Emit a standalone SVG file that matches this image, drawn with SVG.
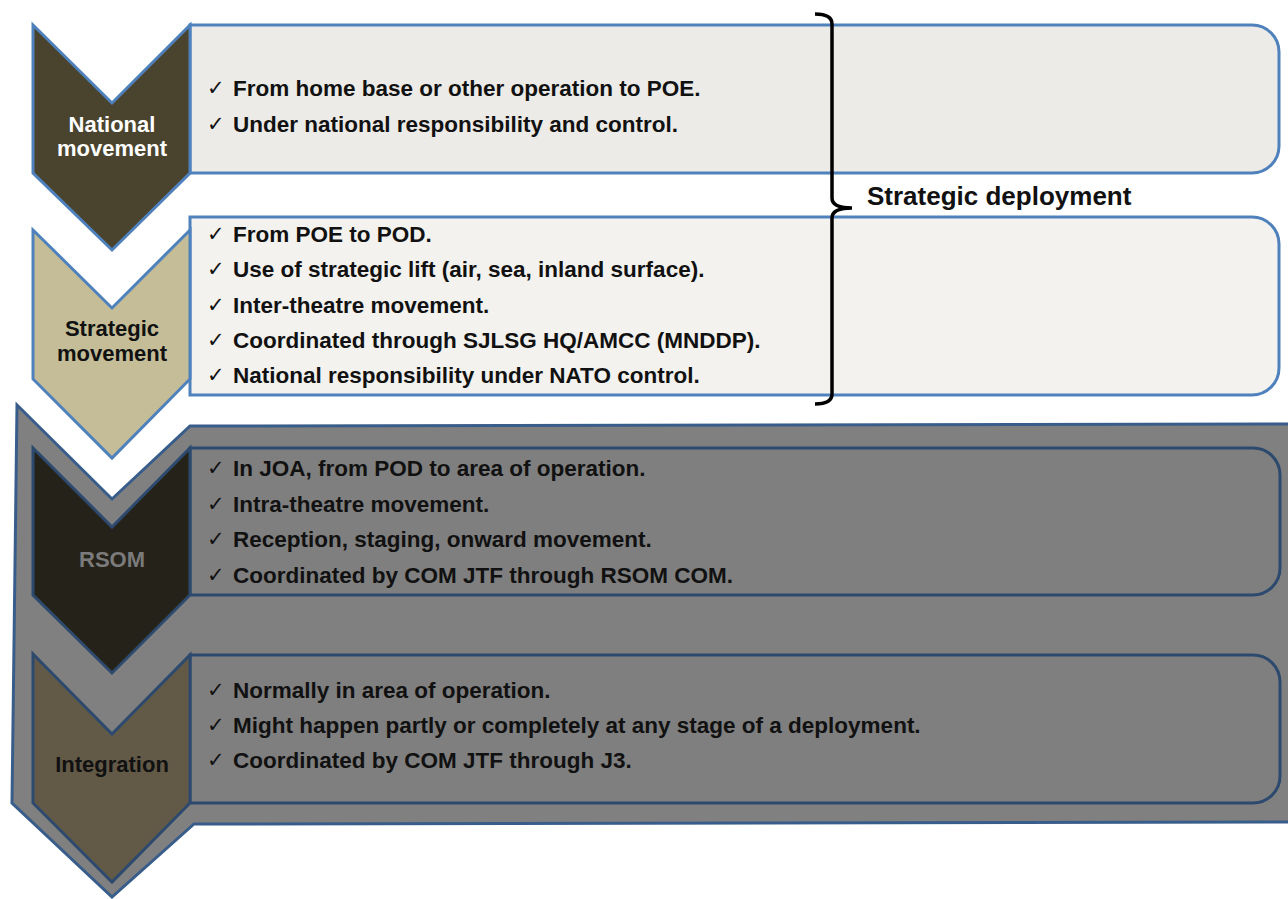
<svg xmlns="http://www.w3.org/2000/svg" width="1288" height="899" viewBox="0 0 1288 899">
  <style>
    .box-light { stroke: #4f81bd; stroke-width: 3; }
    .box-dark { fill: #7f7f7f; stroke: #2d4a6e; stroke-width: 3; }
    .chev-light { stroke: #4f81bd; stroke-width: 3; stroke-linejoin: miter; }
    .chev-dark { stroke: #2d4a6e; stroke-width: 3; stroke-linejoin: miter; }
    .t { font-family: "Liberation Sans", Arial, sans-serif; font-weight: bold; font-size: 22.5px; fill: #111111; }
    .chk { font-family: "DejaVu Sans", sans-serif; font-size: 21px; fill: #111111; }
    .lbl { font-family: "Liberation Sans", Arial, sans-serif; font-weight: bold; font-size: 22px; text-anchor: middle; }
  </style>

  <!-- Grey background band (RSOM + Integration) -->
  <g id="execution-band">
    <polygon points="17,405 112,499 190,426 1300,424 1300,822 194,824 112,897 12,803" fill="#808080" stroke="#385d8a" stroke-width="3" stroke-linejoin="miter"/>
  </g>

  <g id="national-movement">
    <path class="box-light" fill="#ecebe7" d="M190,25 H1252 A27,27 0 0 1 1279,52 V146 A27,27 0 0 1 1252,173 H190 Z"/>
    <polygon class="chev-light" fill="#4a442e" points="33,25 112,103 190,25 190,173 112,250 33,173"/>
    <text class="lbl" fill="#ffffff" x="112" y="132">National</text>
    <text class="lbl" fill="#ffffff" x="112" y="156">movement</text>
    <text class="chk" x="207" y="95">✓</text>
    <text class="t" x="233" y="96">From home base or other operation to POE.</text>
    <text class="chk" x="207" y="131">✓</text>
    <text class="t" x="233" y="132">Under national responsibility and control.</text>
  </g>

  <g id="strategic-movement">
    <path class="box-light" fill="#f3f2ee" d="M190,217 H1252 A27,27 0 0 1 1279,244 V368 A27,27 0 0 1 1252,395 H190 Z"/>
    <polygon class="chev-light" fill="#c4bd97" points="33,230 112,308 190,230 190,379 112,458 33,379"/>
    <text class="lbl" fill="#111111" x="112" y="336">Strategic</text>
    <text class="lbl" fill="#111111" x="112" y="361">movement</text>
    <text class="chk" x="207" y="241">✓</text>
    <text class="t" x="233" y="242">From POE to POD.</text>
    <text class="chk" x="207" y="276">✓</text>
    <text class="t" x="233" y="277">Use of strategic lift (air, sea, inland surface).</text>
    <text class="chk" x="207" y="312">✓</text>
    <text class="t" x="233" y="313">Inter-theatre movement.</text>
    <text class="chk" x="207" y="347">✓</text>
    <text class="t" x="233" y="348">Coordinated through SJLSG HQ/AMCC (MNDDP).</text>
    <text class="chk" x="207" y="382">✓</text>
    <text class="t" x="233" y="383">National responsibility under NATO control.</text>
  </g>

  <g id="rsom">
    <path class="box-dark" d="M190,448 H1253 A27,27 0 0 1 1280,475 V568 A27,27 0 0 1 1253,595 H190 Z"/>
    <polygon class="chev-dark" fill="#25221a" points="33,448 112,527 190,448 190,595 112,673 33,595"/>
    <text class="lbl" fill="#7b7b7b" x="112" y="567">RSOM</text>
    <text class="chk" x="207" y="475">✓</text>
    <text class="t" x="233" y="476">In JOA, from POD to area of operation.</text>
    <text class="chk" x="207" y="511">✓</text>
    <text class="t" x="233" y="512">Intra-theatre movement.</text>
    <text class="chk" x="207" y="546">✓</text>
    <text class="t" x="233" y="547">Reception, staging, onward movement.</text>
    <text class="chk" x="207" y="582">✓</text>
    <text class="t" x="233" y="583">Coordinated by COM JTF through RSOM COM.</text>
  </g>

  <g id="integration">
    <path class="box-dark" d="M190,655 H1253 A27,27 0 0 1 1280,682 V776 A27,27 0 0 1 1253,803 H190 Z"/>
    <polygon class="chev-dark" fill="#625a47" points="33,654 112,734 190,655 190,803 112,882 33,803"/>
    <text class="lbl" fill="#111111" x="112" y="772">Integration</text>
    <text class="chk" x="207" y="697">✓</text>
    <text class="t" x="233" y="698">Normally in area of operation.</text>
    <text class="chk" x="207" y="732">✓</text>
    <text class="t" x="233" y="733">Might happen partly or completely at any stage of a deployment.</text>
    <text class="chk" x="207" y="767">✓</text>
    <text class="t" x="233" y="768">Coordinated by COM JTF through J3.</text>
  </g>

  <g id="connectors">
    <path d="M815,14 Q832,14 832,24 V198 Q832,208 852,208 Q832,208 832,218 V394 Q832,404 815,404" fill="none" stroke="#000000" stroke-width="3.5"/>
  </g>
  <g id="strategic-deployment-label">
    <text font-family="Liberation Sans, Arial, sans-serif" font-weight="bold" font-size="26" fill="#111111" x="867" y="205">Strategic deployment</text>
  </g>
</svg>
